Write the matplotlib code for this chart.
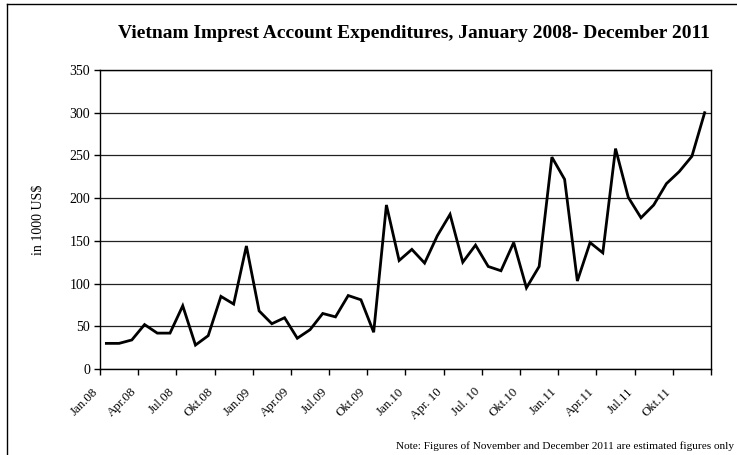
import numpy as np
import matplotlib
matplotlib.use('Agg')
import matplotlib.pyplot as plt
from matplotlib.lines import Line2D

plt.rcParams['font.family'] = ['Liberation Serif', 'DejaVu Serif']

# monthly expenditures Jan 2008 - Dec 2011, in 1000 US$
values_2008 = [30, 30, 34, 52, 42, 42, 74, 28, 39, 85, 76, 144]
values_2009 = [68, 53, 60, 36, 46, 65, 61, 86, 81, 43, 192, 127]
values_2010 = [140, 124, 156, 181, 125, 145, 120, 115, 148, 95, 120, 248]
values_2011 = [222, 103, 148, 136, 258, 201, 177, 192, 217, 231, 249, 300]
values = values_2008 + values_2009 + values_2010 + values_2011

tick_labels = ['Jan.08', 'Apr.08', 'Jul.08', 'Okt.08',
               'Jan.09', 'Apr.09', 'Jul.09', 'Okt.09',
               'Jan.10', 'Apr. 10', 'Jul. 10', 'Okt.10',
               'Jan.11', 'Apr.11', 'Jul.11', 'Okt.11']
y_ticks = [0, 50, 100, 150, 200, 250, 300, 350]

title = 'Vietnam Imprest Account Expenditures, January 2008- December 2011'
note = 'Note: Figures of November and December 2011 are estimated figures only'

W, H = 737, 455
fig = plt.figure(figsize=(W / 100, H / 100), dpi=100)
ax = fig.add_axes([100 / W, 1 - 369 / H, 611 / W, 299 / H])

x = np.arange(len(values))
ax.plot(x, values, color='black', lw=2.0, solid_joinstyle='miter', zorder=3)

ax.set_xlim(-0.5, len(values) - 0.5)
ax.set_ylim(0, 350)
ax.set_yticks(y_ticks)
ax.set_yticklabels([str(v) for v in y_ticks], fontsize=10)
ax.yaxis.grid(True, color='#222222', lw=0.9)
ax.set_axisbelow(True)

# ticks between categories, labels on every third month
ax.set_xticks(np.arange(-0.5, len(values), 3))
ax.set_xticklabels([])
for pos, lab in zip(np.arange(0, len(values), 3), tick_labels):
    ax.annotate(lab, xy=(pos, 0), xycoords=('data', 'axes fraction'),
                xytext=(-10, -21), textcoords='offset pixels',
                rotation=45, ha='right', va='center', rotation_mode='anchor',
                fontsize=9.3, annotation_clip=False)
ax.tick_params(axis='both', which='major', length=4, width=1, color='black',
               direction='out')
ax.tick_params(axis='y', pad=3)

for s in ax.spines.values():
    s.set_color('black')
    s.set_linewidth(1.0)

ax.set_ylabel('in 1000 US$', fontsize=10, labelpad=18)

fig.text(414 / W, 1 - 33 / H, title, ha='center', va='center',
         fontsize=14, fontweight='bold')
fig.text(734 / W, 1 - 446 / H, note, ha='right', va='center', fontsize=8.1)

# outer chart border
fig.add_artist(Line2D([7 / W, 7 / W], [0, 1 - 4 / H], color='black', lw=1))
fig.add_artist(Line2D([7 / W, 1], [1 - 4 / H, 1 - 4 / H], color='black', lw=1))

fig.savefig('out.png', dpi=100)
